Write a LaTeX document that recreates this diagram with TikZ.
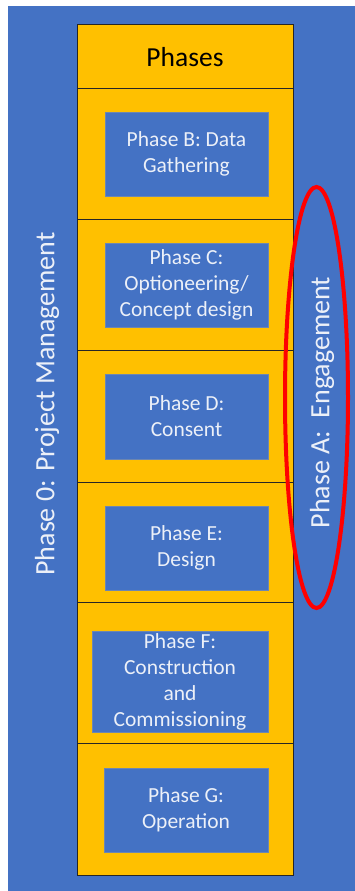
\documentclass[tikz,border=0pt]{standalone}
\usepackage{fontspec}
\setmainfont{Carlito}
\definecolor{bgblue}{RGB}{68,114,196}
\definecolor{boxblue}{RGB}{68,114,196}
\definecolor{edgeblue}{RGB}{47,82,143}
\definecolor{gold}{RGB}{255,192,0}
\definecolor{paletext}{RGB}{236,240,248}
\tikzset{
  rowbox/.style={draw=black!85, line width=0.9pt, fill=gold, minimum width=216pt, inner sep=0pt},
  innerbox/.style={draw=edgeblue!70, line width=0.6pt, fill=boxblue, inner sep=0pt, align=center,
    text=paletext, font=\fontsize{21.5}{26}\selectfont},
  sidelabel/.style={rotate=90, text=paletext, font=\fontsize{28}{32}\selectfont, inner sep=0pt},
  headlabel/.style={font=\fontsize{27.5}{32}\selectfont, text=black}
}
\begin{document}
\begin{tikzpicture}[x=1pt,y=-1pt]
\useasboundingbox (0,0) rectangle (355,891);
\fill[white] (0,0) rectangle (355,891);
\fill[bgblue] (8,6) rectangle (355,891);
% rows
\node[rowbox, minimum height=64pt] (head) at (185,56) {};
\node[headlabel] (headtext) at (185,57) {Phases};
\node[rowbox, minimum height=131pt] (rowB) at (185,153.5) {};
\node[rowbox, minimum height=131pt] (rowC) at (185,284.5) {};
\node[rowbox, minimum height=132pt] (rowD) at (185,416) {};
\node[rowbox, minimum height=120pt] (rowE) at (185,542) {};
\node[rowbox, minimum height=141pt] (rowF) at (185,672.5) {};
\node[rowbox, minimum height=132pt] (rowG) at (185,809) {};
% inner boxes
\node[innerbox, minimum width=163pt, minimum height=84pt] (pB) at (186.5,154) {Phase B: Data\\Gathering};
\node[innerbox, minimum width=163pt, minimum height=84pt] (pC) at (186.5,285) {Phase C:\\Optioneering/\\Concept design};
\node[innerbox, minimum width=163pt, minimum height=85pt] (pD) at (186.5,416.5) {Phase D:\\Consent};
\node[innerbox, minimum width=163pt, minimum height=84pt] (pE) at (186.5,548) {Phase E:\\Design};
\node[innerbox, minimum width=176pt, minimum height=101pt] (pF) at (180,681.5) {Phase F:\\Construction\\and\\Commissioning};
\node[innerbox, minimum width=164pt, minimum height=84pt] (pG) at (186,810) {Phase G:\\Operation};
% side labels
\node[sidelabel] (p0) at (47,404) {Phase 0: Project Management};
\node[sidelabel] (pA) at (322,402.5) {Phase A:\ \ Engagement};
% red ellipse
\draw[red, line width=4pt] (316.5,397.5) ellipse [x radius=31.5pt, y radius=210.5pt];
\end{tikzpicture}
\end{document}
